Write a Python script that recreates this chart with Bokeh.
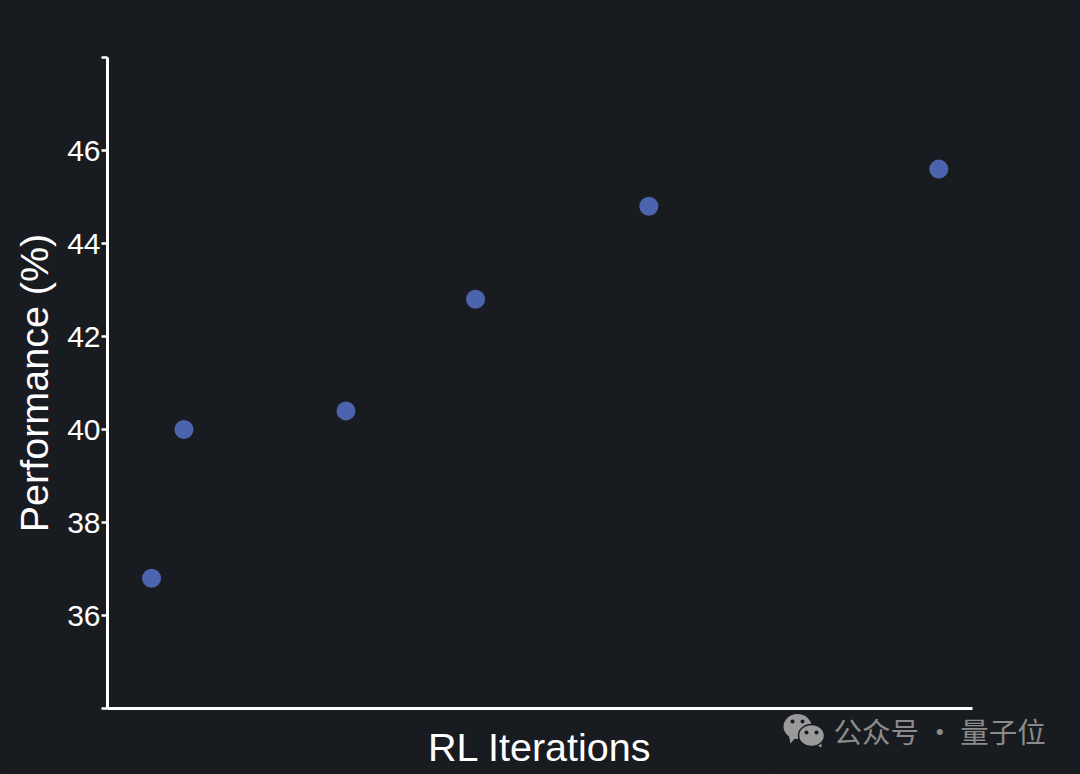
from bokeh.core.properties import value
from bokeh.embed import file_html
from bokeh.resources import INLINE
from bokeh.plotting import figure
from bokeh.models import Range1d, FixedTicker

BG = "#181b20"
iterations = [0, 1, 6, 10, 15.35, 24.3]
performance = [36.8, 40.0, 40.4, 42.8, 44.8, 45.6]
y_ticks = [34, 36, 38, 40, 42, 44, 46, 48]
y_tick_labels = {34: "", 36: "36", 38: "38", 40: "40", 42: "42", 44: "44", 46: "46", 48: ""}
x_label = "RL Iterations"
y_label = "Performance (%)"
watermark = "公众号 · 量子位"

FL, FT, FW, FH = 107, 57, 865, 651

p = figure(width=1080, height=774, frame_width=FW, frame_height=FH,
           min_border_left=FL, min_border_top=FT, min_border_right=1080 - FL - FW,
           min_border_bottom=774 - FT - FH,
           x_range=Range1d(-1.36, 25.34), y_range=Range1d(34, 48),
           output_backend="svg", toolbar_location=None,
           background_fill_color=BG, border_fill_color=BG, outline_line_color=None)
p.grid.visible = False

p.scatter(iterations, performance, size=19, color="#4c63ad", line_color=None)

for ax in (p.xaxis[0], p.yaxis[0]):
    ax.axis_line_color = "white"
    ax.axis_line_width = 3
    ax.major_tick_line_color = "white"
    ax.major_tick_line_width = 2.5
    ax.minor_tick_line_color = None
    ax.axis_label_text_color = "white"
    ax.axis_label_text_font = "Liberation Sans"
    ax.axis_label_text_font_style = "normal"
    ax.axis_label_text_font_size = "39.5px"
    ax.major_label_text_color = "white"
    ax.major_label_text_font = "Liberation Sans"
    ax.major_label_text_font_size = "30px"

p.xaxis.ticker = FixedTicker(ticks=[])
p.xaxis.axis_label = x_label
p.xaxis.axis_label_standoff = 16
p.yaxis.ticker = FixedTicker(ticks=y_ticks)
p.yaxis.major_label_overrides = y_tick_labels
p.yaxis.major_tick_in = 0
p.yaxis.major_tick_out = 6
p.yaxis.major_label_standoff = 1
p.yaxis.axis_label = y_label
p.yaxis.axis_label_standoff = 8

# Watermark strip: a small figure laid over the page's lower right corner.
WX, WY, WW, WH = 770, 712, 300, 58
w = figure(width=WW, height=WH, frame_width=WW, frame_height=WH,
           x_range=Range1d(WX, WX + WW), y_range=Range1d(WY + WH, WY),
           x_axis_location=None, y_axis_location=None,
           min_border=0, min_border_left=0, min_border_right=0, min_border_top=0, min_border_bottom=0,
           margin=(WY - 774, 0, 0, WX),
           output_backend="svg", toolbar_location=None,
           background_fill_color=BG, border_fill_color=BG, outline_line_color=None)
w.grid.visible = False
GREY = "#9a9a9a"
w.patch([788, 795, 790], [733, 737, 743], color=GREY, line_color=None)
w.ellipse(x=[797], y=[726], width=28, height=25, fill_color=GREY, line_color=None)
w.scatter([792, 802], [721, 721], size=4, color=BG, line_color=None)
w.patch([812, 821, 821], [743, 741, 747], color=GREY, line_color=None)
w.ellipse(x=[811], y=[735], width=26, height=22, fill_color=GREY, line_color=BG, line_width=1.5)
w.scatter([806, 816], [732, 732], size=4, color=BG, line_color=None)
w.text(x=[833], y=[730], text=[watermark], text_font=value("Noto Sans CJK SC"),
       text_font_size="28.5px", text_color="#8b8b8b", text_baseline="middle", text_align="left")

html = file_html([p, w], INLINE)
html = html.replace("<head>", "<head><style>html,body{background:%s;}</style>" % BG, 1)
open("out.html", "w").write(html)
